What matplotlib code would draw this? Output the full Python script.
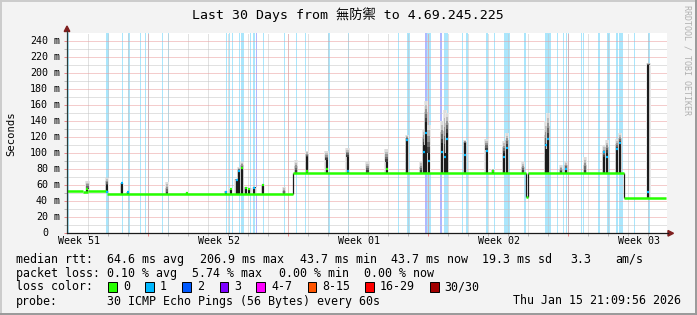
import matplotlib
matplotlib.use("Agg")
import matplotlib.pyplot as plt
from matplotlib.patches import Rectangle, Polygon
from matplotlib.lines import Line2D
import numpy as np

W, H = 697, 315
MONO = ["DejaVu Sans Mono", "Noto Sans CJK TC"]

# --- data (x in days since start of the 30 day window) ---
# median rtt, piecewise level spans
level_start = [0.0, 0.80, 1.05, 2.00, 11.28, 22.93, 23.03, 27.83]
level_end = [0.80, 1.05, 2.00, 11.28, 22.93, 23.03, 27.83, 29.95]
level_val = [52.5, 51.5, 52.8, 48.3, 75.5, 44.6, 75.5, 43.5]

# smoke spikes: position, top of dark part, top of smoke, median dot, loss of that sample
spike_day = [1.02, 1.99, 2.74, 3.05, 4.99, 6.00, 7.94, 8.19, 8.48, 8.60, 8.75, 8.95,
             9.12, 9.37, 9.79, 10.85, 11.45, 12.00, 12.98, 14.03, 15.03, 15.98,
             17.00, 17.70, 17.85, 17.95, 18.08, 18.75, 18.90, 19.00, 19.90, 20.98,
             21.30, 21.85, 22.00, 22.80, 23.95, 24.05, 24.70, 24.95, 25.90, 26.85,
             27.00, 27.50, 27.65, 29.07]
spike_dark = [55, 60, 62, 51, 48.3, 50, 52, 55, 66, 78, 81, 57,
              55, 57, 60, 48.3, 75.5, 95, 91, 95, 75.5, 89,
              116, 75.5, 110, 138, 100, 112, 100, 125, 112, 104,
              78, 100, 108, 75.5, 105, 118, 75.5, 80, 75.5, 95,
              100, 105, 112, 209]
spike_smoke = [65, 69, 63, 52, 64, 51, 53, 56, 68, 82, 89, 58,
               56, 58, 61, 58, 91, 102, 102, 106, 89, 105,
               122, 90, 130, 165, 135, 140, 154, 150, 116, 118,
               80, 115, 125, 89, 140, 150, 85, 89, 95, 110,
               116, 118, 125, 212]
spike_med = [55, 52, 62, 51, 0, 50, 52, 55, 66, 78, 81, 57,
             55, 57, 60, 0, 0, 78, 80, 78, 0, 80,
             116, 0, 101, 125, 90, 101, 95, 117, 98, 102,
             78, 95, 106, 0, 110, 118, 0, 80, 0, 101,
             95, 105, 112, 51.7]
spike_loss = [0, 1, 1, 1, 0, 0, 1, 0, 1, 1, 0, 0,
              0, 1, 0, 0, 0, 0, 0, 1, 0, 0,
              1, 0, 1, 1, 1, 1, 1, 1, 1, 1,
              0, 1, 1, 0, 1, 1, 0, 1, 0, 1,
              1, 1, 1, 1]

# packet loss stripes: start day, width in days, loss level
loss_start = [0.025, 1.95, 2.75, 3.05, 3.65, 3.90, 4.025, 4.75, 5.025, 7.95, 8.10,
              8.25, 8.60, 8.70, 9.125, 9.30, 9.45, 9.775, 10.85, 11.45, 11.90,
              13.05, 14.025, 16.525, 17.00, 17.90, 18.00, 18.65, 18.85, 19.725,
              19.95, 20.95, 21.325, 21.85, 22.85, 23.90, 24.475, 24.775, 24.925,
              25.025, 25.675, 25.775, 26.55, 27.00, 27.45, 27.60, 28.325, 29.05]
loss_width = [0.05, 0.15, 0.05, 0.10, 0.05, 0.05, 0.05, 0.05, 0.05, 0.05, 0.05,
              0.05, 0.05, 0.15, 0.05, 0.10, 0.05, 0.05, 0.05, 0.05, 0.05,
              0.10, 0.05, 0.05, 0.15, 0.10, 0.20, 0.10, 0.20, 0.05,
              0.10, 0.10, 0.05, 0.30, 0.10, 0.30, 0.05, 0.05, 0.05,
              0.05, 0.05, 0.05, 0.10, 0.15, 0.10, 0.20, 0.05, 0.10]
loss_level = [1] * 16 + [2] + [1] * 8 + [2, 1, 2] + [1] * 20

week_labels = ["Week 51", "Week 52", "Week 01", "Week 02", "Week 03"]
week_label_day = [0.59, 7.59, 14.59, 21.59, 28.59]
yticks = [0, 20, 40, 60, 80, 100, 120, 140, 160, 180, 200, 220, 240]

loss_names = ["0", "1", "2", "3", "4-7", "8-15", "16-29", "30/30"]
loss_colors = ["#26ff00", "#00b8ff", "#0059ff", "#7e00ff", "#ff00ff", "#ff5500", "#ff0000", "#a10000"]
stripe_colors = {1: "#aae6fc", 2: "#b0b8ff"}

stats_rtt = ["64.6 ms avg", "206.9 ms max", "43.7 ms min", "43.7 ms now", "19.3 ms sd", "3.3", "am/s"]
stats_rtt_x = [107, 200, 300, 391, 482, 570, 615]
stats_loss = ["0.10 % avg", "5.74 % max", "0.00 % min", "0.00 % now"]
stats_loss_x = [107, 192, 279, 364]


def fx(x):
    return x / W


def fy(y):
    return 1 - y / H


def level_at(d):
    for s, e, v in zip(level_start, level_end, level_val):
        if s <= d < e:
            return v
    return level_val[-1]


fig = plt.figure(figsize=(W / 100, H / 100), dpi=100, facecolor="#f3f3f3")

top_px, bot_px, left_px, right_px = 32.7, 233.3, 67, 667
ymax = (bot_px - top_px) / ((bot_px - 40.5) / 240)
ax = fig.add_axes([fx(left_px), fy(bot_px), (right_px - left_px) / W, (bot_px - top_px) / H])
ax.set_facecolor("white")
ax.set_xlim(0, 30)
ax.set_ylim(0, ymax)
for sp in ax.spines.values():
    sp.set_visible(False)

# loss stripes
for s, w, l in zip(loss_start, loss_width, loss_level):
    ax.axvspan(s, s + w, color=stripe_colors[l], lw=0, zorder=1)

# grid
day_lines = np.arange(1.065, 30, 1.0)
week_lines = np.arange(4.065, 30, 7.0)
for d in day_lines:
    ax.axvline(d, color="#c4c4c4", lw=0.72, ls=(0, (1, 1)), zorder=2)
for v in range(10, 250, 20):
    ax.axhline(v, color="#c4c4c4", lw=0.72, ls=(0, (1, 1)), zorder=2)
for d in week_lines:
    ax.axvline(d, color="#eb9a9a", lw=0.72, ls=(0, (1, 1)), zorder=2)
for v in yticks[1:]:
    ax.axhline(v, color="#eb9a9a", lw=0.72, ls=(0, (1, 1)), zorder=2)

# smoke
greys = ["#404040", "#6a6a6a", "#949494", "#bcbcbc", "#dcdcdc"]
for d, dk, sm, md, ls_ in zip(spike_day, spike_dark, spike_smoke, spike_med, spike_loss):
    base = level_at(d)
    low = max(dk, base)
    ax.bar(d, sm - base, bottom=base, width=0.22, color="#e8e8e8", lw=0, zorder=3)
    ax.bar(d, (low + sm) / 2 - base, bottom=base, width=0.16, color="#c8c8c8", lw=0, zorder=3)
    n = len(greys)
    for i, g in enumerate(greys):
        y0 = low + (sm - low) * i / n
        y1 = low + (sm - low) * (i + 1) / n
        ax.bar(d, y1 - y0, bottom=y0, width=0.12, color=g, lw=0, zorder=3)
    if dk > base:
        ax.bar(d, dk - base, bottom=base, width=0.1, color="#1c1c1c", lw=0, zorder=3.5)
    if md > 0:
        ax.plot([d - 0.05, d + 0.05], [md, md], color=loss_colors[ls_], lw=1.6,
                solid_capstyle="butt", zorder=5)

# median line
ax.hlines(level_val, level_start, level_end, colors=loss_colors[0], lw=1.8, zorder=4)
for i in range(1, len(level_val)):
    if abs(level_val[i] - level_val[i - 1]) > 5:
        ax.vlines(level_start[i], min(level_val[i], level_val[i - 1]),
                  max(level_val[i], level_val[i - 1]), colors="#1c1c1c", lw=0.9, zorder=3.6)

# ticks
ax.set_yticks(yticks)
ax.set_yticks(np.arange(10, 250, 20), minor=True)
ax.set_xticks(week_lines)
ax.set_xticks(day_lines, minor=True)
ax.set_yticklabels([])
ax.set_xticklabels([])
ax.tick_params(which="major", length=2.2, width=0.72, color="#eb8a8a", direction="out")
ax.tick_params(which="minor", length=2.2, width=0.72, color="#bababa", direction="out")

# y tick labels
ytr = ax.get_yaxis_transform()
for v in yticks:
    ax.text((48 - left_px) / 600, v, str(v), transform=ytr, ha="right", va="center",
            fontsize=7.2, family=MONO)
    if v:
        ax.text((54 - left_px) / 600, v, "m", transform=ytr, ha="left", va="center",
                fontsize=7.2, family=MONO)

xtr = ax.get_xaxis_transform()
for lab, d in zip(week_labels, week_label_day):
    ax.text(d, -(241.5 - bot_px) / (bot_px - top_px), lab, transform=xtr, ha="center",
            va="center", fontsize=7.2, family=MONO)

# axes lines and arrows
fig.add_artist(Line2D([fx(67), fx(67)], [fy(233.3), fy(31)], color="#2c3c38", lw=0.9))
fig.add_artist(Line2D([fx(67), fx(668)], [fy(233.3), fy(233.3)], color="#1a1a1a", lw=0.9))
fig.add_artist(Polygon([[fx(67), fy(26)], [fx(64.2), fy(31.5)], [fx(69.8), fy(31.5)]],
                       closed=True, color="#7f1f1f", transform=fig.transFigure))
fig.add_artist(Polygon([[fx(673.5), fy(233.3)], [fx(668), fy(230.5)], [fx(668), fy(236.1)]],
                       closed=True, color="#7f1f1f", transform=fig.transFigure))

# frame shading
fig.add_artist(Line2D([0, 1], [fy(1), fy(1)], color="#cbcbcb", lw=1.4))
fig.add_artist(Line2D([fx(1), fx(1)], [0, 1], color="#cbcbcb", lw=1.4))
fig.add_artist(Line2D([0, 1], [fy(314), fy(314)], color="#999999", lw=1.4))
fig.add_artist(Line2D([fx(696), fx(696)], [0, 1], color="#999999", lw=1.4))

# titles
fig.text(fx(348), fy(15), "Last 30 Days from 無防禦 to 4.69.245.225", ha="center", va="center",
         fontsize=9.5, family=MONO)
fig.text(fx(11), fy(134), "Seconds", rotation=90, ha="center", va="center",
         fontsize=7.6, family=MONO)
fig.text(fx(687), fy(60), "RRDTOOL / TOBI OETIKER", rotation=270, ha="center", va="center",
         fontsize=6, family=MONO, color="#b0b0b0")

# legend
LF = 8.4
fig.text(fx(16), fy(259.5), "median rtt:", va="center", fontsize=LF, family=MONO)
for t, x in zip(stats_rtt, stats_rtt_x):
    fig.text(fx(x), fy(259.5), t, va="center", fontsize=LF, family=MONO)
fig.text(fx(16), fy(273.5), "packet loss:", va="center", fontsize=LF, family=MONO)
for t, x in zip(stats_loss, stats_loss_x):
    fig.text(fx(x), fy(273.5), t, va="center", fontsize=LF, family=MONO)
fig.text(fx(16), fy(287), "loss color:", va="center", fontsize=LF, family=MONO)
box_x = [108, 145, 182, 219.5, 256, 307.5, 365, 430]
lab_x = [123, 160, 197, 234, 271, 322, 380, 444]
for name, c, bx, lx in zip(loss_names, loss_colors, box_x, lab_x):
    fig.add_artist(Rectangle((fx(bx), fy(292)), 8.5 / W, 10 / H, facecolor=c,
                             edgecolor="black", lw=0.7, transform=fig.transFigure))
    fig.text(fx(lx), fy(287), name, va="center", fontsize=LF, family=MONO)
fig.text(fx(16), fy(301), "probe:", va="center", fontsize=LF, family=MONO)
fig.text(fx(107), fy(301), "30 ICMP Echo Pings (56 Bytes) every 60s", va="center",
         fontsize=LF, family=MONO)
fig.text(fx(681), fy(301), "Thu Jan 15 21:09:56 2026", va="center", ha="right",
         fontsize=LF, family=MONO)

fig.savefig("out.png", dpi=100, facecolor=fig.get_facecolor())
